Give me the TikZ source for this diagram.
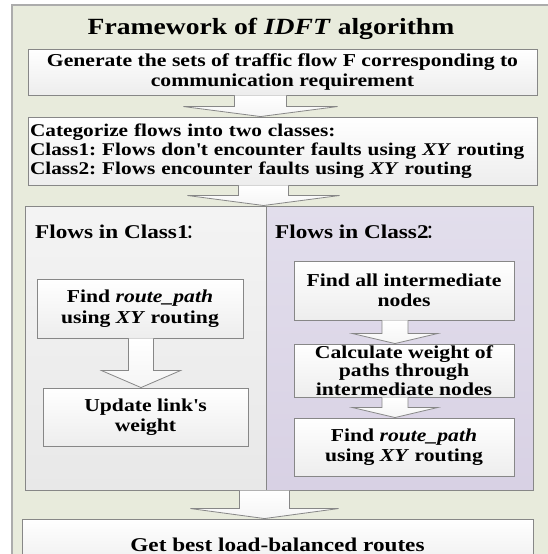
\documentclass[tikz,border=0pt]{standalone}
\usepackage{fontspec}
\setmainfont{Liberation Serif}[FakeStretch=1.19]
\newfontfamily\cjk{Noto Sans CJK SC}
\usetikzlibrary{calc}
\frenchspacing

\definecolor{framebg}{RGB}{232,235,220}
\definecolor{edgegray}{RGB}{135,135,135}
\definecolor{lavtop}{RGB}{226,222,236}
\definecolor{lavbot}{RGB}{216,209,228}

% block arrow: top node, bottom node, centre x, half shaft, half head, head length
\newcommand{\blockarrow}[6]{%
  \path[barrow] let \p1=(#1.south), \p2=(#2.north) in
    ({(#3-#4)*1pt},\y1) -- ({(#3-#4)*1pt},{\y2+#6*1pt})
    -- ({(#3-#5)*1pt},{\y2+#6*1pt}) -- ({#3*1pt},\y2)
    -- ({(#3+#5)*1pt},{\y2+#6*1pt}) -- ({(#3+#4)*1pt},{\y2+#6*1pt})
    -- ({(#3+#4)*1pt},\y1);}

\begin{document}
\begin{tikzpicture}[x=1pt,y=-1pt,
    box/.style={draw=edgegray, line width=0.9pt, top color=white, bottom color=gray!14,
      inner xsep=3pt, inner ysep=0pt, font=\fontsize{18.2}{19.5}\selectfont\bfseries, align=center},
    inbox/.style={box, minimum width=220, font=\fontsize{18.2}{20.5}\selectfont\bfseries},
    half/.style={draw=edgegray, line width=1pt, inner sep=0pt},
    head/.style={anchor=west, inner sep=0pt, font=\fontsize{19.5}{21}\selectfont\bfseries},
    barrow/.style={draw=edgegray, line width=0.8pt, top color=white, bottom color=gray!8}]

  \useasboundingbox (0,0) rectangle (548,554);
  \clip (0,0) rectangle (548,554);
  \fill[white] (0,0) rectangle (548,554);
  \draw[fill=framebg, draw=gray!65, line width=1.4pt] (12,5) rectangle (570,580);

  \node[inner sep=0pt, font=\fontsize{23.2}{26}\selectfont\bfseries] (title) at (271,29)
    {Framework of \textit{IDFT} algorithm};

  \node[box, minimum width=509, minimum height=46] (gen) at (282.5,72)
    {Generate the sets of traffic flow F corresponding to\\ communication requirement};
  \node[box, minimum width=509, minimum height=68, text width=505, inner xsep=2pt, align=left,
        font=\fontsize{17.9}{19}\selectfont\bfseries] (cat) at (282.5,151)
    {Categorize flows into two classes:\\
     Class1: Flows don\textquotesingle t encounter faults using \textit{XY} routing\\
     Class2: Flows encounter faults using \textit{XY} routing};

  \node[half, minimum width=241, minimum height=284, top color=gray!9, bottom color=gray!18] (left) at (145.5,348) {};
  \node[half, minimum width=267, minimum height=284, top color=lavtop, bottom color=lavbot] (right) at (399.5,348) {};
  \node[head] (h1) at (35,232) {Flows in Class1\hspace{-3pt}{\cjk\mdseries ：}};
  \node[head] (h2) at (275,232) {Flows in Class2\hspace{-3pt}{\cjk\mdseries ：}};

  \node[inbox, minimum width=206, minimum height=59] (findL) at (140,308.5)
    {Find \textit{route\_path}\\ using \textit{XY} routing};
  \node[inbox, minimum width=205, minimum height=58] (upd) at (145.5,417)
    {Update link\textquotesingle s\\ weight};
  \node[inbox, minimum height=59] (inter) at (404,290.5)
    {Find all intermediate\\ nodes};
  \node[inbox, minimum height=53, font=\fontsize{18.2}{18.5}\selectfont\bfseries] (calc) at (404,370.5)
    {Calculate weight of\\ paths through\\ intermediate nodes};
  \node[inbox, minimum height=58] (findR) at (404,447)
    {Find \textit{route\_path}\\ using \textit{XY} routing};

  \node[box, minimum width=511, minimum height=51, font=\fontsize{19.5}{21}\selectfont\bfseries] (best) at (277.5,544.5)
    {Get best load-balanced routes};

  \blockarrow{gen}{cat}{260.5}{26}{77}{10}
  \blockarrow{cat}{left}{263.5}{25}{76}{10}
  \blockarrow{findL}{upd}{141}{12.5}{39.5}{17}
  \blockarrow{inter}{calc}{395}{13}{42.5}{10}
  \blockarrow{calc}{findR}{395}{13}{42.5}{10}
  \blockarrow{left}{best}{264.5}{25}{74}{10}

\end{tikzpicture}
\end{document}
